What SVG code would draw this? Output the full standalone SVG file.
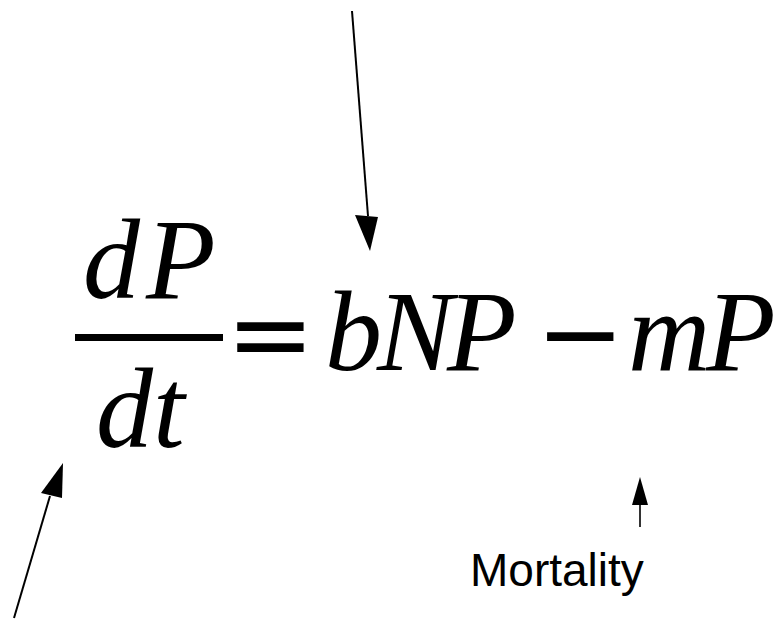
<svg xmlns="http://www.w3.org/2000/svg" width="784" height="620" viewBox="0 0 784 620">
<style>
.eq{font-family:"Liberation Serif","Times New Roman",serif;font-style:italic;font-size:114px;fill:#000}
.op{font-family:"DejaVu Sans",sans-serif;font-size:106px;fill:#000}
.lbl{font-family:"Liberation Sans",Arial,sans-serif;font-size:46px;fill:#000}
.ln{stroke:#000;stroke-width:2;fill:none}
.hd{fill:#000;stroke:none}
</style>
<rect width="784" height="620" fill="#fff"/>
<g id="equation">
<text class="eq" y="298"><tspan x="83">d</tspan><tspan x="146">P</tspan></text>
<rect x="75" y="334" width="148" height="7" fill="#000"/>
<text class="eq" x="96" y="447">dt</text>
<text class="op" x="226" y="370">=</text>
<text class="eq" y="370"><tspan x="325">b</tspan><tspan x="377">N</tspan><tspan x="447">P</tspan></text>
<text class="op" x="536" y="370">−</text>
<text class="eq" y="370"><tspan x="628">m</tspan><tspan x="706">P</tspan></text>
</g>
<g id="mortality">
<text class="lbl" x="470" y="586">Mortality</text>
</g>
<g id="connectors">
<line class="ln" x1="352" y1="11" x2="368" y2="216"/>
<polygon class="hd" points="355,215 378,217 370,251"/>
<line class="ln" x1="14" y1="618" x2="50" y2="496"/>
<polygon class="hd" points="63,463 41,493 62,498"/>
<line x1="640" y1="527" x2="640" y2="504" stroke="#333" stroke-width="2"/>
<polygon class="hd" points="632,505 648,505 640,477"/>
</g>
</svg>
